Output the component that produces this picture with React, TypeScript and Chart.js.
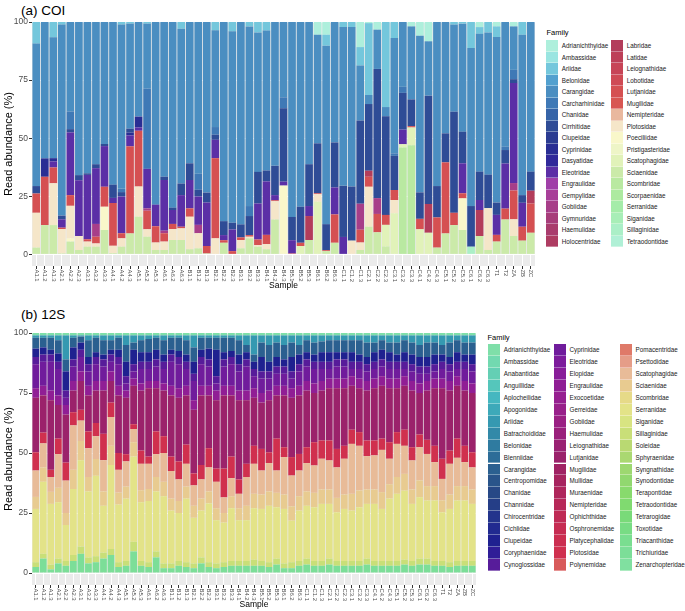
import React, { useEffect, useRef } from 'react';
import { Chart, registerables } from 'chart.js';
Chart.register(...registerables);
Chart.defaults.font.family = "'Liberation Sans', Arial, sans-serif";

const samples = ['A1.1','A1.2','A1.3','A2.1','A2.2','A2.3','A3.1','A3.2','A3.3','A4.1','A4.2','A4.3','A5.1','A5.2','A5.3','A6.1','A6.2','A6.3','B1.1','B1.2','B1.3','B2.1','B2.2','B2.3','B3.1','B3.2','B3.3','B4.1','B4.2','B4.3','B5.1','B5.2','B5.3','B6.1','B6.2','B6.3','C1.1','C1.2','C1.3','C2.1','C2.2','C2.3','C3.1','C3.2','C3.3','C4.1','C4.2','C4.3','C5.1','C5.2','C5.3','C6.1','C6.2','C6.3','T1','T2','ZA','ZB','ZC'];
const yTicks = [0, 25, 50, 75, 100];

// ---------- (a) COI ----------
const coiFamilies = ['Adrianichthyidae','Ambassidae','Ariidae','Belonidae','Carangidae','Carcharhinidae','Chanidae','Cirrhitidae','Clupeidae','Cyprinidae','Dasyatidae','Eleotridae','Engraulidae','Gempylidae','Gobiidae','Gymnuridae','Haemulidae','Holocentridae','Labridae','Latidae','Leiognathidae','Lobotidae','Lutjanidae','Mugilidae','Nemipteridae','Plotosidae','Poeciliidae','Pristigasteridae','Scatophagidae','Sciaenidae','Scombridae','Scorpaenidae','Serranidae','Siganidae','Sillaginidae','Tetraodontidae'];
const coiColors = ['#aeefdc','#9ae5e1','#74c7dc','#52a0cf','#4b8ec1','#3f79b6','#3664a8','#2f4c96','#2b3c92','#292e94','#30299a','#5b2fa6','#a03fa8','#a83f99','#a73e89','#a73d7a','#a93c6d','#ae3c62','#b33d5b','#bd3f58','#c74457','#cf4a55','#d55052','#d85652','#e9b89e','#f5e6c9','#f9f7ca','#eef5c7','#e1f2b9','#cbeaa9','#b9e9a1','#adeaa0','#a5eca9','#a8eeb7','#abefc7','#b0f0d6'];

const adrCOI = [0,0,0,0,0,0,0,0,0,0, 0,0,0,0,0,0,0,0,0,0, 0,0,0,0,0,0,0,0,0,0, 0,0,0,5.5,5.5,0,0,0,10.8,0.5, 3.3,0,0,0,1.9,5.9,8.3,0,0,0, 0,0,2.2,0,1.9,0,1.9,0,0];
const ariCOI = [9.3,0,6.6,1.1,0,0,0,0,0,0, 1.1,0.7,0,0.7,0,0,0,2.9,0,0, 0,3.6,0,4,0,1.9,4.5,3.7,0,0, 0,0,0,0,4.7,0,2.2,2.2,7.9,30.9, 0,36.6,6.9,0,0,0,0,0,0,1.1, 0.7,11.2,2.9,4.5,4.6,0,0,5.5,0];
const carCOI = [61.3,58.7,52,82.2,38.5,65.9,65.1,61.2,52.5,70, 70.7,45.2,40.7,28,78.6,66.6,79.9,66.6,60.8,65.3, 73.4,41.6,85.7,82.4,87.1,77.3,60,60.2,61.9,32.4, 83.9,79.5,61.2,46.7,76.8,51.8,68.3,68.6,23.7,3.9, 16.9,4,49.6,27.9,31.4,67.4,23.4,70.6,47.9,37.5, 46.5,68,59.3,61.2,71.2,53.7,18.7,69,64.4];
const chcCOI = [0,0,0,0,7.6,0,0,0,0,0, 1.4,0,0,34.5,0,0,0,0,0,6.9, 0,3.3,0,0,0,4.3,0,0,0,4.7, 0,0,0,0,0,0,0,0,0,0, 0,0,1.1,2.6,0,0,0,0,0,0, 0,0,0,0,0,1.4,4,0,0];
const cirCOI = [3.2,0,0,1.6,1.4,2.2,0.7,1.7,0.9,5.7, 1.9,1.7,0,0,0,1.4,1,5,7.2,2.9, 4.3,2.2,6,2.9,5.6,8.2,13.6,4.7,12.6,31.6, 10,15.5,18,21.5,11.2,19.4,22,23.3,35.8,28.7, 55.6,42.4,14.7,15.8,11.5,11.4,46.6,13.5,12.5,43.5, 13.6,17.5,12.2,14.4,5.3,5.8,1.7,3.3,8.2];
const cypCOI = [0,7.9,1.4,0,0,0,0,0,0,0, 0,1.2,4.7,0,0,0,0,0,0,0, 0,0,0,0,0,0,0,0,0,0, 0,0,0,0,0,0,0,0,0,0, 0,0,0,0,0,0,0,0,0,0, 0,0,0,0,0,0,0,0,0];
const eleCOI = [0,0,2.6,3.6,27,24,27.7,24,17.5,2.2, 15.8,4.7,1.4,17,9.3,21.8,6,13.6,12.2,12.2, 18.7,7.9,2.2,9.3,0,0,15.5,23,2.2,1.7, 5.7,0,4.3,0,0,11.6,7.5,0,0,0, 0,0,0,6.3,0,0,0,0,0,0, 12.9,0,4.3,0,8.6,19.4,43,10.3,0];
const gobCOI = [0,0,0,0,0,0,0,5.5,0,0, 0,0,0,1,0,1.1,0,0,0,3.6, 0,0,0,0,0,0,0,0,0,0, 0,0,0,0,0,0,0,0,11.2,0, 6.8,0,0,0,0,0,0,0,0,0, 0,0,0,0,0,0,3.2,0,0];
const labCOI = [0,0,0,0,0,0,0,0,0,0, 0,0,0,0,0,0,0,0,0,0, 0,0,0,0,0,0,0,0,0,0, 0,0,10.3,0,0,0,0,0,0,2.6, 0,0,0,0,0,0,12.4,0,0,0, 0,0,11.2,0,0,0,0,0,5.5];
const lutCOI = [8.3,20.8,6.8,0.6,4.6,0,1,2.9,8.6,18.4, 2.2,37.5,24,8,7,3.6,2.2,0.7,3.6,0, 3.2,34.5,1.1,1.4,1.1,0.7,2.4,4,0.4,0, 0.4,1.4,0,0.4,0.4,12.2,0,0,5.5,4.3, 7.9,4.3,4.3,0,0.6,4.5,0,13,30.6,5.3, 2.2,0,0,0,2.9,4.7,12.4,6,12.6];
const ploCOI = [15,0,18,10.5,14,6,2.2,1.4,0,3.2, 3.6,0,13,3.2,3.2,3.6,4.7,5,14,6.5, 0,6.9,0,0,3.6,0.7,0.7,2.2,7.9,0, 0,0,0,3.2,0,0,0,5.9,3.2,17.2, 0,0,5.7,0,0,0,0,0,0,0, 0,0,0,18,0,0,7.2,0,0];
const poeCOI = [0,0,0,0,1.4,0,0,0,10,0, 0,0,0,0,0,0,0,0,0,0, 0,0,0,0,0,0,0,0,0,29.6, 0,0,0,0,0,0,0,0,0,0, 0,0,0,0,0,0,0,0,0,0, 13.6,0,0,0,0,0,0,0,0];
const scaCOI = [0,0,0,0,0,0,0,0,0,0, 0,0,0,0,0,0,0,0,0,0, 0,0,0,0,0,0,0,0,0,0, 0,3.6,0,22.7,0,0,0,0,0,0, 0,9.3,17.7,1.4,7.6,10.8,9.3,0,0,0, 0,0,0,0,0,0,0,0,0];
const sciCOI = [2.9,12.6,12.6,0.4,5.5,1.9,3.3,3.3,10.5,0.5, 3.3,9,16.2,7.6,1.9,1.9,6.2,6.2,2.2,2.6, 0.4,0,5,0,2.6,6.9,3.3,2.2,15,0, 0,0,6.2,0,1.4,5,0,0,1.9,11.9, 9.5,3.4,0,0,0,0,0,2.9,9,12.6, 10.5,0,7.9,1.9,5.5,15,7.9,5.9,9.3];
const scoCOI = [0,0,0,0,0,0,0,0,0,0, 0,0,0,0,0,0,0,0,0,0, 0,0,0,0,0,0,0,0,0,0, 0,0,0,0,0,0,0,0,0,0, 0,0,0,46,47,0,0,0,0,0, 0,0,0,0,0,0,0,0,0];
const silCOI = [0,0,0,0,0,0,0,0,0,0, 0,0,0,0,0,0,0,0,0,0, 0,0,0,0,0,0,0,0,0,0, 0,0,0,0,0,0,0,0,0,0, 0,0,0,0,0,0,0,0,0,0, 0,3.3,0,0,0,0,0,0,0];

// ---------- (b) 12S ----------
const s12Families = ['Adrianichthyidae','Ambassidae','Anabantidae','Anguillidae','Aplocheilidae','Apogonidae','Ariidae','Batrachoididae','Belonidae','Blenniidae','Carangidae','Centropomidae','Chanidae','Channidae','Chirocentridae','Cichlidae','Clupeidae','Coryphaenidae','Cynoglossidae','Cyprinidae','Eleotridae','Elopidae','Engraulidae','Exocoetidae','Gerreidae','Gobiidae','Haemulidae','Leiognathidae','Lutjanidae','Mugilidae','Mullidae','Muraenidae','Nemipteridae','Ophichthidae','Osphronemidae','Platycephalidae','Plotosidae','Polynemidae','Pomacentridae','Psettodidae','Scatophagidae','Sciaenidae','Scombridae','Serranidae','Siganidae','Sillaginidae','Soleidae','Sphyraenidae','Syngnathidae','Synodontidae','Terapontidae','Tetraodontidae','Tetrarogidae','Toxotidae','Triacanthidae','Trichiuridae','Zenarchopteridae'];
const s12Colors = ['#7fdfa9','#72d9b0','#64cfb4','#55c6bb','#45b7c0','#3da9b9','#3599b1','#3289a8','#2f7ba0','#2d6d98','#2b6090','#29548a','#274886','#253e87','#23348c','#212a90','#1f2190','#2f1d97','#571c9a','#701c9c','#7d1c9c','#881d99','#901e95','#961f90','#98208a','#9a2083','#9a207b','#9a2173','#9b226b','#a02264','#a7245f','#af265b','#b72858','#bf2a55','#c62c52','#cb2e50','#d0304e','#d85a5a','#df7a69','#e59d88','#e8bb98','#e8cb90','#e6da88','#e3e388','#d8e482','#c9df78','#b9d972','#aad871','#9dd870','#91d86f','#88da6d','#80da70','#79da79','#78dc84','#7ade90','#7cde98','#80e0a0'];

const adr12 = [1,1,1,1,1,1,1,1,1,1, 1,1,1,1,1,1,1,1,1,1, 1,1,1,1,1,1,1,1,1,1, 1,1,1,1,1,1,1,1,1,1, 1,1,1,1,1,1,1,1,1,1, 1,1,1,1,1,1,1,1,1];
const ari12 = [1,1,1,2,10,1,0.5,2,1,2, 2,1,4,3,2,1.5,1,2,1,1, 2,5,1,1,1,1,1,2,4,8, 3,4,3,4,3,4,2,3,2.5,2, 2,2,2,2,3,3,2,3,3,2, 3,4,3,3,4,3,2,3,3];
const car12 = [4.5,4,5,5.5,5,4,2.5,7,6,6, 4,5,7,3,5,5.5,5,6,5,5.5, 6,6,5,4.5,5,6,5.5,6,3,3, 6,7,6,6,6,4,5,5,4.5,5, 5,5,5,6,6,4,4,4,5,5, 5,5,6,5,4,6,5,5,5];
const clu12 = [3.5,3,2,3.5,8,5,3,3,2,2, 2,3,6,6,4,4,4,3,2,2.5, 3,5,3,4.5,11,3,2.5,4,3,3, 6,4,4,3,6,4,3,3,4,4, 3,3,4,3,3,4,4,4,3,4, 4,4,4,4,3,3,4,3,4];
const cyn12 = [3,3,3,3,3,3,3,3,3,3, 3,3,3,3,3,3,3,3,3,3, 3,3,3,3,3,3,3,3,3,3, 3,3,3,3,3,3,3,3,3,3, 3,3,3,3,3,3,3,3,3,3, 3,3,3,3,3,3,3,3,3];
const cyp12 = [10,10,12,11,3,6,6,6,7,6, 4,9,3,3,6,5,6,6,10,10, 7,8,9,8,3,8,9,8,10,5, 6,5,5,5,4,6,6,6,5,4, 5,5,3,4,4,4,4,4,4,3, 4,4,3,3,4,4,3,5,5];
const eng12 = [4,4,4,4,4,4,4,4,4,4, 4,4,3,3,3,3,3,3,4,4, 4,4,4,4,4,4,4,4,4,4, 4,4,4,4,4,4,4,4,4,4, 4,4,4,4,4,4,4,4,4,4, 4,4,4,4,4,4,4,4,4];
const lut12 = [22.7,15.5,29,14,20,9,12,15,13.5,18, 9,24,23.5,16,25,28.5,18,19,25.5,26.5, 20.5,26.5,29,22,28.5,30.5,25.5,33,26.5,20, 19.3,21.7,18,21.6,24.7,24.4,23.6,20.5,20.8,21.8, 25.3,24,18.3,18.3,20.8,21.8,22,22.5,18.3,18.3, 23.6,17.3,20.5,24,29.4,25,22,23,24.7];
const plo12 = [7.6,4.5,3,6.5,7.5,5.5,4.5,7,5.5,11, 6,7,3,2,5.5,3,9.5,7,6,7.5, 8,5,6,8,5.5,12,9,6,5.5,7.5, 9,4.5,13.3,4.1,7.7,6.9,6.6,9.7,7.6,8.3, 7.7,5.4,5.9,5.7,6.5,6.2,4.7,6.9,4.9,6.7, 5.5,5.3,5.9,6.8,8.4,5.5,8,6.8,6.3];
const sca12 = [11,10,6.2,14,13.5,18.5,8.5,12,9.5,13, 12,9.5,10.5,5.5,11,10.5,9.5,12,11.5,9, 9.5,8.5,8,10,11,6.5,7.5,6,12,12.5, 10,11.8,9.3,15.6,12.8,10.7,11.8,11.4,12.8,12.1, 12.7,14.9,20.8,18.6,13.9,14.2,17.6,10.6,13.8,11.7, 12.1,13.8,13.4,10,8.9,12.8,11.8,10,9.2];
const sci12 = [5,6,5,6,5,8,8,6,7,6, 8,5,5,6,5,5,6,6,5,5, 5,5,5,5,5,4,5,5,6,6, 6,6,6,6,6,6,6,6,6,6, 6,6,7,7,6,6,7,6,7,7, 6,7,6,6,5,6,6,6,6];
const ser12 = [22.2,30,25.3,23.5,15,27.5,36,27.5,33.5,19.5, 35,24,26,35.5,24.5,25.5,25,28,22,20, 26.5,19,19.5,24.5,18,16.5,22,17,17,21.5, 21.7,23.5,21.4,22.7,17.3,21,22,22.4,23.8,22.8, 20.3,21.7,21,22.4,22.8,23.8,21.7,26,28,28.8, 23.8,25.6,24.2,25.2,20.3,22.2,25.2,25.2,23.8];
const sil12 = [2,2,2,2,2,2.5,3,2.5,2.5,2.5, 2.5,2,2,4,2,2,2.5,2,2,2, 2,2,2.5,2,2,2,2,2,2,2.5, 2,2,2.5,2,2.5,2,2.5,2,2,2.5, 2,2,2,2,2.5,2,2,2,2,2, 2,2.5,2.5,2,2,2,2,2,2];
const tri12 = [2.5,6,1.5,4,3,5,8,4,4.5,6, 7.5,2.5,3,9,3,2.5,6.5,2,2,3, 2.5,2,4,2.5,2,2.5,3,3,3,3, 3,2.5,3.5,2,2,3,3.5,3,3,3.5, 3,3,3,3,3.5,3,3,3,3,3.5, 3,3.5,3.5,3,3,2.5,3,3,3];

const coiValues: Record<string, number[]> = {
  Adrianichthyidae: adrCOI, Ariidae: ariCOI, Carangidae: carCOI, Carcharhinidae: chcCOI,
  Cirrhitidae: cirCOI, Cyprinidae: cypCOI, Eleotridae: eleCOI, Gobiidae: gobCOI, Labridae: labCOI,
  Lutjanidae: lutCOI, Plotosidae: ploCOI, Poeciliidae: poeCOI, Scatophagidae: scaCOI,
  Sciaenidae: sciCOI, Scombridae: scoCOI, Sillaginidae: silCOI,
};
const s12Values: Record<string, number[]> = {
  Adrianichthyidae: adr12, Ariidae: ari12, Carangidae: car12, Clupeidae: clu12, Cynoglossidae: cyn12,
  Cyprinidae: cyp12, Engraulidae: eng12, Lutjanidae: lut12, Plotosidae: plo12, Scatophagidae: sca12,
  Sciaenidae: sci12, Serranidae: ser12, Sillaginidae: sil12, Trichiuridae: tri12,
};

const FONT = "'Liberation Sans', Arial, sans-serif";

const panelBg = {
  id: 'panelBg',
  beforeDraw(chart: any) {
    const { ctx, chartArea: a } = chart;
    ctx.save();
    ctx.fillStyle = '#ebebeb';
    ctx.fillRect(a.left, a.top, a.right - a.left, a.bottom - a.top);
    ctx.restore();
  },
};

const xLabels = {
  id: 'xLabels',
  afterDraw(chart: any) {
    const { ctx, chartArea: a } = chart;
    const xs = chart.scales.x;
    ctx.save();
    ctx.fillStyle = '#4d4d4d';
    ctx.font = `5.9px ${FONT}`;
    ctx.textAlign = 'left';
    ctx.textBaseline = 'middle';
    samples.forEach((lab, i) => {
      const x = xs.getPixelForValue(i);
      ctx.save();
      ctx.translate(x, a.bottom + 3.5);
      ctx.rotate(Math.PI / 2);
      ctx.fillText(lab, 0, 0);
      ctx.restore();
    });
    ctx.restore();
  },
};

type ChartProps = {
  families: string[]; colors: string[]; values: Record<string, number[]>;
  top: number; width: number; height: number; padTop: number; padRight: number; xHeight: number;
};

function StackedChart(p: ChartProps) {
  const ref = useRef<HTMLCanvasElement | null>(null);
  useEffect(() => {
    const names = p.families.slice().reverse().filter((n) => p.values[n]);
    const datasets = names.map((n) => ({
      label: n,
      data: p.values[n],
      backgroundColor: p.colors[p.families.indexOf(n)],
      borderWidth: 0,
      categoryPercentage: 0.9,
      barPercentage: 1.0,
    }));
    const chart = new Chart(ref.current as HTMLCanvasElement, {
      type: 'bar',
      data: { labels: samples, datasets },
      options: {
        responsive: false,
        animation: false,
        devicePixelRatio: 1,
        layout: { padding: { top: p.padTop, right: p.padRight, left: 0, bottom: 0 } },
        plugins: { legend: { display: false }, tooltip: { enabled: false }, title: { display: false } },
        scales: {
          x: {
            stacked: true,
            offset: true,
            grid: { offset: false, color: '#ffffff', lineWidth: 1, drawTicks: true, tickLength: 3, tickColor: '#333333', tickWidth: 1 },
            border: { display: false },
            ticks: { display: false },
            title: { display: true, text: 'Sample', color: '#000000', font: { size: 8.5, family: FONT }, padding: { top: 0, bottom: 1 } },
            afterFit: (s: any) => { s.height = p.xHeight; },
          },
          y: {
            stacked: true,
            min: -5,
            max: 100,
            afterBuildTicks: (s: any) => { s.ticks = yTicks.map((v) => ({ value: v })); },
            grid: { color: '#ffffff', lineWidth: 1, drawTicks: true, tickLength: 3, tickColor: '#333333', tickWidth: 1 },
            border: { display: false },
            ticks: { color: '#4d4d4d', font: { size: 8.5, family: FONT }, padding: 1 },
            title: { display: true, text: 'Read abundance (%)', color: '#000000', font: { size: 11, family: FONT }, padding: { top: 2, bottom: 0 } },
            afterFit: (s: any) => { s.width = 32; },
          },
        },
      } as any,
      plugins: [panelBg, xLabels],
    });
    return () => chart.destroy();
  }, []);
  return (
    <canvas
      ref={ref}
      width={p.width}
      height={p.height}
      style={{ position: 'absolute', left: 0, top: p.top, width: p.width, height: p.height }}
    />
  );
}

type LegendProps = {
  families: string[]; colors: string[]; titleX: number; titleY: number;
  colX: number[]; rowTop: number; rowH: number; rows: number; swW: number;
};

function Legend(l: LegendProps) {
  const items = l.families.map((f, i) => {
    const col = Math.floor(i / l.rows);
    const row = i % l.rows;
    const x = l.colX[col];
    const y = l.rowTop + row * l.rowH;
    return (
      <React.Fragment key={f}>
        <div style={{ position: 'absolute', left: x, top: y, width: l.swW, height: l.rowH, background: l.colors[i], boxShadow: 'inset 0 -0.5px 0 rgba(255,255,255,0.7)' }} />
        <div style={{ position: 'absolute', left: x + l.swW + 4, top: y, height: l.rowH, lineHeight: `${l.rowH}px`, fontSize: '6.3px', fontFamily: FONT, color: '#1a1a1a', whiteSpace: 'nowrap' }}>{f}</div>
      </React.Fragment>
    );
  });
  return (
    <>
      <div style={{ position: 'absolute', left: l.titleX, top: l.titleY - 5, height: 10, lineHeight: '10px', fontSize: '7.5px', fontFamily: FONT, color: '#000' }}>Family</div>
      {items}
    </>
  );
}

export default function App() {
  return (
    <div style={{ position: 'absolute', left: 0, top: 0, width: 685, height: 611, background: '#ffffff', overflow: 'hidden' }}>
      <div style={{ position: 'absolute', left: 21, top: 3, fontSize: '13.5px', lineHeight: '16px', fontFamily: FONT, color: '#000' }}>(a) COI</div>
      <StackedChart families={coiFamilies} colors={coiColors} values={coiValues} top={0} width={540} height={292} padTop={22} padRight={5} xHeight={26} />
      <Legend families={coiFamilies} colors={coiColors} titleX={546.5} titleY={32.5} colX={[546, 611]} rowTop={40} rowH={11.5} rows={18} swW={11.7} />

      <div style={{ position: 'absolute', left: 21, top: 307, fontSize: '13.5px', lineHeight: '16px', fontFamily: FONT, color: '#000' }}>(b) 12S</div>
      <StackedChart families={s12Families} colors={s12Colors} values={s12Values} top={292} width={480} height={319} padTop={41} padRight={4} xHeight={26} />
      <Legend families={s12Families} colors={s12Colors} titleX={487.5} titleY={337.5} colX={[488.3, 554, 620]} rowTop={344} rowH={11.95} rows={19} swW={11.5} />
    </div>
  );
}
